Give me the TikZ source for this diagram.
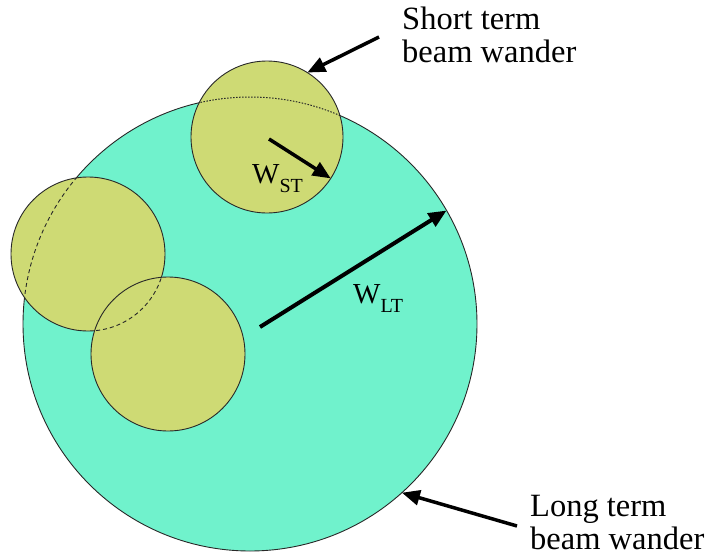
\documentclass[tikz,border=0pt]{standalone}
\usepackage{fontspec}
\setmainfont{Liberation Serif}
\usetikzlibrary{arrows.meta}
\definecolor{aquafill}{RGB}{112,242,204}
\definecolor{olivefill}{RGB}{206,218,116}
\definecolor{edgecol}{RGB}{40,40,40}
\tikzset{
  beam/.style={circle, draw=edgecol, line width=0.9pt, inner sep=0pt, outer sep=0pt},
  hiddenline/.style={draw=edgecol, line width=0.9pt, dash pattern=on 4pt off 3pt},
  dottedline/.style={draw=edgecol, line width=1pt, dash pattern=on 1.5pt off 1.5pt},
  ptr/.style={line width=3.5pt, -{Triangle[length=18pt,width=15pt]}},
  lbl/.style={inner sep=0pt, anchor=base west, font=\fontsize{32.5}{33}\selectfont, align=left},
  wlbl/.style={inner sep=0pt, anchor=base west},
}
\newcommand{\wlab}[1]{{\fontsize{29}{30}\selectfont W}{\fontsize{20}{20}\selectfont\raisebox{-9pt}{#1}}}
\begin{document}
\begin{tikzpicture}[x=1pt,y=-1pt]
\useasboundingbox (0,0) rectangle (707,557);
\node[beam, fill=aquafill, minimum size=454pt] (big) at (250,324) {};
\node[beam, fill=olivefill, minimum size=154pt] (left) at (88,254) {};
\node[beam, fill=olivefill, minimum size=154pt] (low) at (168,354) {};
\node[beam, fill=olivefill, minimum size=152pt] (top) at (267,137) {};
\begin{scope}
  \clip (left.center) circle (77pt);
  \draw[hiddenline] (big.center) circle (227pt);
\end{scope}
\begin{scope}
  \clip (low.center) circle (77pt);
  \draw[hiddenline] (left.center) circle (77pt);
\end{scope}
\begin{scope}
  \clip (top.center) circle (76pt);
  \draw[dottedline] (big.center) circle (227pt);
\end{scope}
% labels
\node[lbl] (stlab) at (402,62) {Short term\\beam wander};
\node[lbl] (ltlab) at (530,549) {Long term\\beam wander};
\node[wlbl] (wst) at (252,183) {\wlab{ST}};
\node[wlbl] (wlt) at (353,303) {\wlab{LT}};
% arrows
\coordinate (ststart) at (379,37);
\coordinate (ltstart) at (517,526);
\coordinate (wltstart) at (260,327);
\coordinate (wststart) at (269,139);
\draw[ptr] (ststart) -- (top.58);
\draw[ptr] (ltstart) -- (big.-48.6);
\draw[ptr, line width=4pt] (wltstart) -- (big.30.8);
\draw[ptr] (wststart) -- (top.-33);
\end{tikzpicture}
\end{document}
